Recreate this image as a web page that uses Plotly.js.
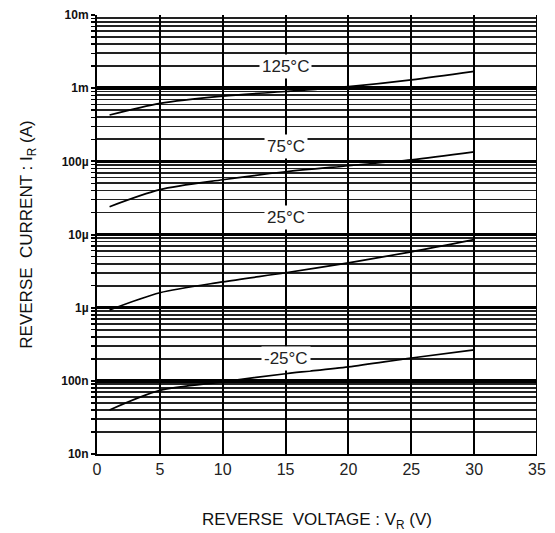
<!DOCTYPE html>
<html>
<head>
<meta charset="utf-8">
<script src="https://cdn.plot.ly/plotly-3.0.1.min.js"></script>
<style>html,body{margin:0;padding:0;background:#fff;}#chart{width:555px;height:533px;}</style>
</head>
<body>
<div id="chart"></div>
<script>
// Data
var voltage = [1, 5, 10, 15, 20, 25, 30];
var current125 = [0.43e-3, 0.62e-3, 0.78e-3, 0.90e-3, 1.05e-3, 1.30e-3, 1.70e-3];
var current75 = [24e-6, 41e-6, 56e-6, 72e-6, 87e-6, 105e-6, 135e-6];
var current25 = [0.93e-6, 1.6e-6, 2.25e-6, 3.0e-6, 4.1e-6, 5.8e-6, 8.5e-6];
var currentM25 = [40e-9, 74e-9, 97e-9, 125e-9, 155e-9, 205e-9, 265e-9];
var seriesLabels = ["125°C", "75°C", "25°C", "-25°C"];
var labelX = [15, 15, 15, 15];
var labelY = [1.95e-3, 0.16e-3, 17e-6, 0.2e-6];
var yTickVals = [1e-8, 1e-7, 1e-6, 1e-5, 1e-4, 1e-3, 1e-2];
var yTickText = ["10n", "100n", "1µ", "10µ", "100µ", "1m", "10m"];
var xTickVals = [0, 5, 10, 15, 20, 25, 30, 35];

var minorVals = [];
for (var i = 0; i < yTickVals.length - 1; i++) {
  for (var k = 2; k <= 9; k++) minorVals.push(yTickVals[i] * k);
}

var series = [current125, current75, current25, currentM25];
var traces = series.map(function (ys) {
  return {x: voltage, y: ys, type: 'scatter', mode: 'lines',
          line: {color: '#000', width: 1.7, shape: 'spline', smoothing: 0.8}, hoverinfo: 'none'};
});

var annotations = seriesLabels.map(function (t, i) {
  return {x: labelX[i], y: Math.log10(labelY[i]), xref: 'x', yref: 'y', text: t,
          showarrow: false, bgcolor: '#fff', borderpad: 2,
          font: {family: 'Liberation Sans, Arial, sans-serif', size: 17, color: '#222'}};
});

var layout = {
  width: 555, height: 533,
  margin: {l: 97, r: 18, t: 15, b: 79},
  paper_bgcolor: '#fff', plot_bgcolor: '#fff',
  showlegend: false,
  font: {family: 'Liberation Sans, Arial, sans-serif', color: '#111'},
  xaxis: {
    range: [0, 35], tickvals: xTickVals, ticktext: xTickVals.map(String),
    showgrid: true, gridcolor: '#000', gridwidth: 2,
    zeroline: false, showline: true, linecolor: '#000', linewidth: 2, mirror: false,
    ticks: '', tickfont: {size: 16, color: '#222'},
    title: {text: 'REVERSE  VOLTAGE : V<sub>R</sub> (V)', font: {size: 17, color: '#111'}, standoff: 36}
  },
  yaxis: {
    type: 'log', range: [-8, -2], tickvals: yTickVals, ticktext: yTickText,
    showgrid: true, gridcolor: '#000', gridwidth: 3.5,
    zeroline: false, showline: true, linecolor: '#000', linewidth: 2,
    ticks: 'outside', ticklen: 4, tickwidth: 2, tickcolor: '#000',
    tickfont: {size: 12, color: '#111', weight: 'bold'},
    minor: {tickvals: minorVals, showgrid: true, gridcolor: '#222', gridwidth: 1.8,
            ticks: 'outside', ticklen: 4, tickwidth: 1.5, tickcolor: '#000'},
    title: {text: 'REVERSE  CURRENT : I<sub>R</sub> (A)', font: {size: 17, color: '#111'}, standoff: 24}
  },
  shapes: [{type: 'line', xref: 'x', yref: 'paper', x0: 35, x1: 35, y0: 0, y1: 1,
            line: {color: '#000', width: 2}}],
  annotations: annotations
};

Plotly.newPlot('chart', traces, layout, {displayModeBar: false, staticPlot: true});
</script>
</body>
</html>
